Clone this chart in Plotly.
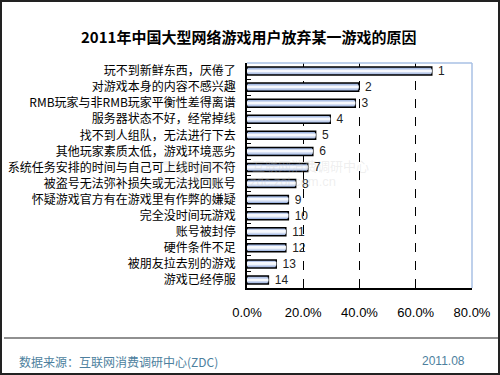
import plotly.graph_objects as go

categories = [
    "玩不到新鲜东西，厌倦了",
    "对游戏本身的内容不感兴趣",
    "RMB玩家与非RMB玩家平衡性差得离谱",
    "服务器状态不好，经常掉线",
    "找不到人组队，无法进行下去",
    "其他玩家素质太低，游戏环境恶劣",
    "系统任务安排的时间与自己可上线时间不符",
    "被盗号无法弥补损失或无法找回账号",
    "怀疑游戏官方有在游戏里有作弊的嫌疑",
    "完全没时间玩游戏",
    "账号被封停",
    "硬件条件不足",
    "被朋友拉去别的游戏",
    "游戏已经停服",
]
values = [0.657, 0.397, 0.385, 0.296, 0.244, 0.234, 0.216, 0.173, 0.147, 0.147, 0.138, 0.138, 0.104, 0.076]
ranks = [str(i) for i in range(1, 15)]
x_ticks = [0.0, 0.2, 0.4, 0.6, 0.8]

title = "2011年中国大型网络游戏用户放弃某一游戏的原因"
source = "数据来源：互联网消费调研中心(ZDC)"
date = "2011.08"

L, R, T, B = 247, 28, 63, 87
W, H = 500, 375
PW, PH = W - L - R, H - T - B

def px(x):
    return (x - L) / PW

def py(y):
    return (H - B - y) / PH

fig = go.Figure()
# gradient-like bars: outer, middle, inner layers
fig.add_trace(go.Bar(
    y=categories, x=values, orientation="h", width=0.5,
    marker=dict(color="#9db3de", line=dict(color="black", width=1.5)),
    text=ranks, texttemplate=" %{text}", textposition="outside", constraintext="none",
    textfont=dict(family="Liberation Sans, Arial", size=12, color="#222222"),
    cliponaxis=False, hoverinfo="skip", showlegend=False,
))
fig.add_trace(go.Bar(
    y=categories, x=values, orientation="h", width=0.3,
    marker=dict(color="#cbd7ef", line=dict(width=0)),
    hoverinfo="skip", showlegend=False,
))
fig.add_trace(go.Bar(
    y=categories, x=values, orientation="h", width=0.12,
    marker=dict(color="#f6f8fd", line=dict(width=0)),
    hoverinfo="skip", showlegend=False,
))

shapes = [
    dict(type="line", xref="paper", yref="paper", x0=0, x1=1, y0=1, y1=1,
         line=dict(color="#a9c0e4", width=1.5), layer="above"),
    dict(type="line", xref="paper", yref="paper", x0=1, x1=1, y0=0, y1=1,
         line=dict(color="#a9c0e4", width=1.5), layer="above"),
    dict(type="rect", xref="paper", yref="paper", x0=px(1), x1=px(499), y0=py(1), y1=py(374),
         line=dict(color="#222222", width=2)),
    dict(type="line", xref="paper", yref="paper", x0=px(4), x1=px(499), y0=py(338), y1=py(338),
         line=dict(color="#222222", width=1.2)),
]

annotations = [
    dict(text="<b>" + title + "</b>", xref="paper", yref="paper", x=px(248), y=py(37),
         xanchor="center", yanchor="middle", showarrow=False,
         font=dict(family="Noto Sans CJK SC", size=15, color="black")),
    dict(text=source, xref="paper", yref="paper", x=px(17), y=py(361),
         xanchor="left", yanchor="middle", showarrow=False,
         font=dict(family="Noto Sans CJK SC", size=12, color="#4d7f9e")),
    dict(text=date, xref="paper", yref="paper", x=px(467), y=py(361),
         xanchor="right", yanchor="middle", showarrow=False,
         font=dict(family="Liberation Sans, Arial", size=12, color="#4d7f9e")),
    dict(text="<i><b>ZDC</b></i>", xref="paper", yref="paper", x=px(190), y=py(172),
         xanchor="center", yanchor="middle", showarrow=False,
         font=dict(family="Liberation Sans", size=34, color="rgba(200,200,200,0.2)")),
    dict(text="互联网消费调研中心", xref="paper", yref="paper", x=px(250), y=py(165),
         xanchor="left", yanchor="middle", showarrow=False,
         font=dict(family="Noto Sans CJK SC", size=13, color="rgba(200,200,200,0.3)")),
    dict(text="zdc.zol.com.cn", xref="paper", yref="paper", x=px(248), y=py(181),
         xanchor="left", yanchor="middle", showarrow=False,
         font=dict(family="Liberation Sans", size=13, color="rgba(200,200,200,0.3)")),
]

fig.update_layout(
    width=W, height=H,
    margin=dict(l=L, r=R, t=T, b=B, autoexpand=False),
    paper_bgcolor="white", plot_bgcolor="white",
    barmode="overlay", bargap=0.5,
    showlegend=False,
    shapes=shapes, annotations=annotations,
    xaxis=dict(
        range=[0, 0.8], tickvals=x_ticks, tickformat=".1%", automargin=False,
        showgrid=True, gridcolor="black", griddash="dash", gridwidth=1,
        zeroline=False, showline=True, linecolor="black", linewidth=1.5,
        ticks="", ticklabelstandoff=12,
        tickfont=dict(family="Liberation Sans, Arial", size=13, color="black"),
        fixedrange=True,
    ),
    yaxis=dict(
        categoryorder="array", categoryarray=categories, autorange="reversed", automargin=False,
        showgrid=False, zeroline=False, showline=True, linecolor="black", linewidth=1.5,
        ticks="inside", tickson="boundaries", ticklen=4, tickcolor="black", tickwidth=1,
        ticklabelstandoff=7,
        tickfont=dict(family="Noto Sans CJK SC", size=12, color="black"),
        fixedrange=True,
    ),
)

fig.write_html("out.html", config={"displayModeBar": False},
               post_script="document.body.style.margin='0px';document.body.style.overflow='hidden';")
